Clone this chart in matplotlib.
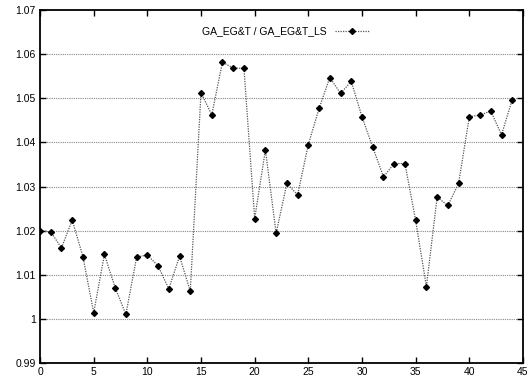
import numpy as np
import matplotlib
matplotlib.use('Agg')
import matplotlib.pyplot as plt

# --- data ---
x_vals = list(range(45))
ratio = [1.0200, 1.0197, 1.0161, 1.0224, 1.0141, 1.0014, 1.0146, 1.0071, 1.0010, 1.0140,
         1.0145, 1.0120, 1.0068, 1.0142, 1.0063, 1.0513, 1.0462, 1.0582, 1.0568, 1.0568,
         1.0227, 1.0383, 1.0194, 1.0307, 1.0281, 1.0395, 1.0477, 1.0547, 1.0511, 1.0538,
         1.0458, 1.0389, 1.0322, 1.0352, 1.0352, 1.0223, 1.0073, 1.0276, 1.0257, 1.0307,
         1.0458, 1.0462, 1.0471, 1.0417, 1.0497]
series_label = 'GA_EG&T / GA_EG&T_LS'
x_ticks = [0, 5, 10, 15, 20, 25, 30, 35, 40, 45]
y_ticks = [0.99, 1.0, 1.01, 1.02, 1.03, 1.04, 1.05, 1.06, 1.07]
y_ticklabels = ['0.99', '1', '1.01', '1.02', '1.03', '1.04', '1.05', '1.06', '1.07']

plt.rcParams['font.family'] = ['Liberation Sans', 'DejaVu Sans']

fig = plt.figure(figsize=(5.28, 3.80), dpi=100)
ax = fig.add_axes([0.0758, 0.0447, 0.9147, 0.929])

# horizontal grid only
for yv in y_ticks[1:-1]:
    ax.axhline(yv, color='#888888', linestyle=(0, (1, 1)), linewidth=0.8, zorder=1)

ax.plot(x_vals, ratio, color='#555555', linestyle=(0, (1, 1)), linewidth=0.9,
        marker='D', markersize=3, markerfacecolor='black', markeredgecolor='black',
        label=series_label, zorder=3)

ax.set_xlim(0, 45)
ax.set_ylim(0.99, 1.07)
ax.set_xticks(x_ticks)
ax.set_yticks(y_ticks)
ax.set_yticklabels(y_ticklabels)
ax.tick_params(direction='in', top=True, right=True, length=4, width=1,
               labelsize=7.5, pad=3)

for sp in ax.spines.values():
    sp.set_linewidth(1.3)

ax.legend(loc='upper right', bbox_to_anchor=(0.70, 0.98), frameon=False,
          markerfirst=False, fontsize=7.5, handlelength=3.2, handletextpad=0.8)

fig.savefig('out.png', dpi=100)
